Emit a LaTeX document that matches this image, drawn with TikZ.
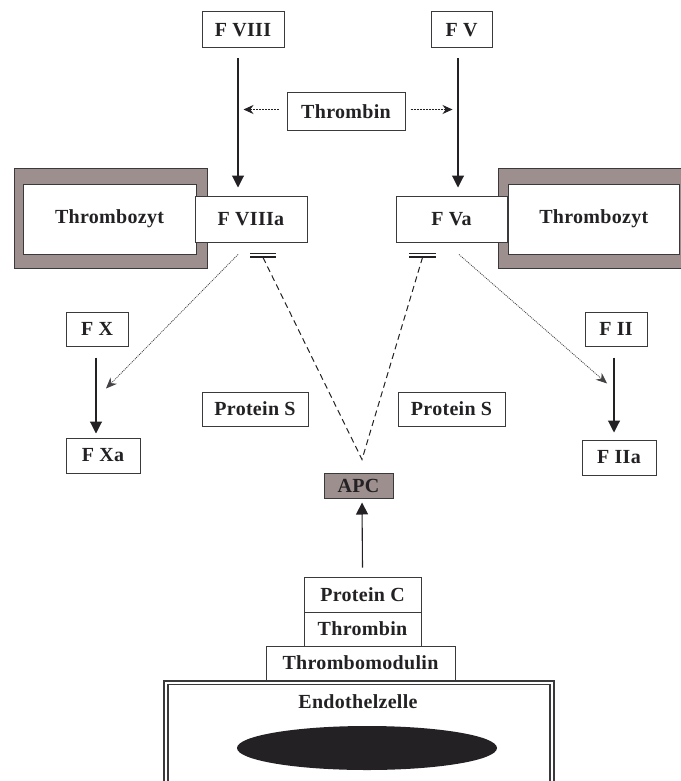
\documentclass[tikz,border=0pt]{standalone}
\usepackage{fontspec}
\setmainfont{Liberation Serif}
\usetikzlibrary{arrows.meta,calc}

\definecolor{ink}{RGB}{35,33,36}
\definecolor{edge}{RGB}{58,58,60}
\definecolor{plate}{RGB}{156,143,141}

\tikzset{
  x=1pt, y=-1pt,
  labelfont/.style={font=\bfseries\fontsize{20}{23}\selectfont\addfontfeatures{LetterSpace=1.5}, text=ink},
  box/.style={draw=edge, line width=1pt, fill=white, inner sep=0pt, labelfont},
  platebox/.style={box, fill=plate},
  solidarrow/.style={draw=ink, line width=1.1pt, -{Triangle[length=12pt,width=12pt]}},
  thrarrow/.style={draw=ink, line width=1pt, dash pattern=on 2pt off 1pt,
                   -{Stealth[length=10pt,width=9pt]}},
  dotarrow/.style={draw=ink!85, line width=0.8pt, dash pattern=on 1pt off 1pt,
                   -{Stealth[length=11pt,width=9pt]}},
  dashline/.style={draw=ink, line width=1pt, dash pattern=on 6pt off 4pt},
  barline/.style={draw=ink, line width=1.2pt},
  cellline/.style={draw=edge, line width=1.2pt},
}

% box given by its corners (x1,y1) (x2,y2), with a label
\newcommand\mkbox[7][box]{%
  \node[#1, minimum width={#4-#2}, minimum height={#5-#3}]
    (#6) at ({(#2+#4)/2},{(#3+#5)/2}) {#7};}

\begin{document}
\begin{tikzpicture}
\useasboundingbox (0,0) rectangle (680,781);

% platelets carrying the activated cofactors
\mkbox[platebox]{14}{168}{207}{268}{tzLplate}{}
\mkbox{23}{184}{196}{254}{tzL}{Thrombozyt}
\mkbox[platebox]{498}{168}{684}{268}{tzRplate}{}
\mkbox{508}{184}{679.5}{254}{tzR}{Thrombozyt}

% factors
\mkbox{202}{12}{284}{48}{f8}{F VIII}
\mkbox{431}{12}{492}{48}{f5}{F V}
\mkbox{287}{93}{405}{130}{thr}{Thrombin}
\mkbox{195}{196}{307}{242}{f8a}{F VIIIa}
\mkbox{396}{196}{507}{242}{f5a}{F Va}
\mkbox{66}{312}{128}{346}{fx}{F X}
\mkbox{66}{438}{140}{473}{fxa}{F Xa}
\mkbox{585}{312}{647}{346}{f2}{F II}
\mkbox{582}{440}{656}{475}{f2a}{F IIa}
\mkbox{202}{392}{308}{426}{psL}{Protein S}
\mkbox{398}{392}{505}{426}{psR}{Protein S}
\mkbox[platebox]{324}{473}{393}{498}{apc}{APC}

% endothelial cell with the thrombomodulin complex
\draw[cellline] (164,790) |- (554,681) -- (554,790);
\draw[cellline] (168,790) |- (550,684.5) -- (550,790);
\node[labelfont] (endo) at (358,702) {Endothelzelle};
\fill[ink] (367,748) ellipse [x radius=130, y radius=22];
\mkbox{266}{646}{455}{680}{tm}{Thrombomodulin}
\mkbox{304}{612}{421}{646}{thb}{Thrombin}
\mkbox{304}{577}{421}{612}{pc}{Protein C}

% activation of F VIII and F V
\draw[solidarrow] ($(f8.south)+(-5,10)$) -- ($(f8a.north)+(-13,-8)$);
\draw[solidarrow] ($(f5.south)+(-3.5,10)$) -- ($(f5a.north)+(6.5,-8)$);
\draw[thrarrow] ($(thr.west)+(-8,-2)$) -- ($(thr.west)+(-43,-2)$);
\draw[thrarrow] ($(thr.east)+(5,-2)$) -- ($(thr.east)+(47,-2)$);

% activation of F X and F II
\draw[solidarrow] ($(fx.south)+(-1,11)$) -- ($(fxa.north)+(-7,-4)$);
\draw[solidarrow] ($(f2.south)+(-2,11)$) -- ($(f2a.north)+(-5,-7)$);

% cofactor action of F VIIIa and F Va
\coordinate (tipL) at ($(fx.south)+(9,42)$);
\coordinate (tipR) at ($(f2.south)+(-9,37)$);
\draw[dotarrow] ($(f8a.south)+(-13,12)$) -- (tipL);
\draw[dotarrow] ($(f5a.south)+(7.5,12)$) -- (tipR);

% inactivation by APC
\draw[barline] ($(f8a.south)+(-1,11)$) -- ++(26,0);
\draw[barline] ($(f8a.south)+(-1,14.5)$) -- ++(26,0);
\draw[barline] ($(f5a.south)+(-42.5,11)$) -- ++(27,0);
\draw[barline] ($(f5a.south)+(-42.5,14.5)$) -- ++(27,0);
\coordinate (barL) at ($(f8a.south)+(12,15)$);
\coordinate (barR) at ($(f5a.south)+(-29,15)$);
\coordinate (apex) at ($(apc.north)+(3.5,-13)$);
\draw[dashline] (barL) -- (apex) -- (barR);

% Protein C activated to APC
\draw[solidarrow] ($(pc.north)+(0,-9)$) -- ($(apc.south)+(3.5,4)$);
\end{tikzpicture}
\end{document}
